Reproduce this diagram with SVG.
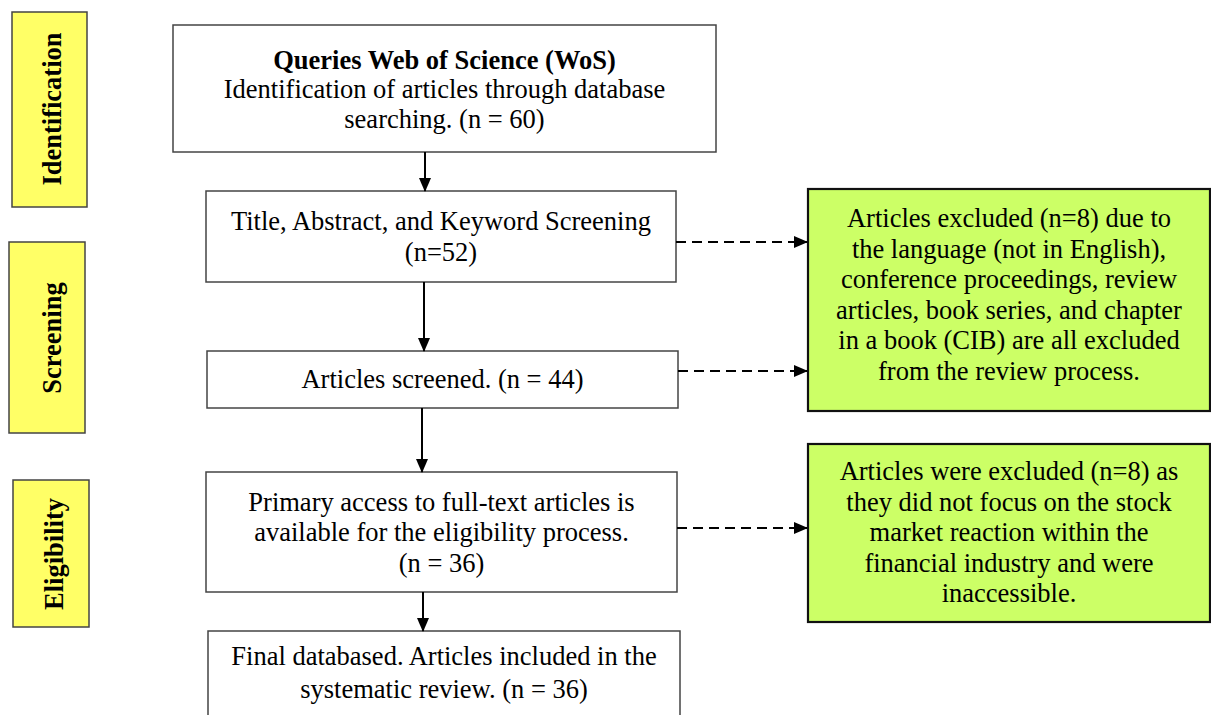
<svg xmlns="http://www.w3.org/2000/svg" width="1211" height="715" viewBox="0 0 1211 715">
<defs>
<marker id="ah" markerWidth="14" markerHeight="12" refX="13" refY="6" orient="auto" markerUnits="userSpaceOnUse">
<path d="M0,0 L14,6 L0,12 Z" fill="#000"/>
</marker>
</defs>
<style>
text{font-family:"Liberation Serif","Times New Roman",serif;font-size:26.5px;fill:#000;text-anchor:middle}
.b{font-weight:bold}
.box{fill:#fff;stroke:#444;stroke-width:1.5}
.stage{fill:#ffff66;stroke:#444;stroke-width:1.5}
.ex{fill:#ccff66;stroke:#111;stroke-width:2.2}
.solid{stroke:#000;stroke-width:2;fill:none}
.dash{stroke:#000;stroke-width:2;fill:none;stroke-dasharray:10,6}
</style>
<rect width="1211" height="715" fill="#fff"/>
<g id="stage-identification">
<rect class="stage" x="12" y="12" width="75" height="195"/>
<text class="b" transform="translate(61,109) rotate(-90)">Identification</text>
</g>
<g id="stage-screening">
<rect class="stage" x="9" y="242" width="76" height="191"/>
<text class="b" transform="translate(61,338) rotate(-90)">Screening</text>
</g>
<g id="stage-eligibility">
<rect class="stage" x="13" y="480" width="76" height="147"/>
<text class="b" transform="translate(63,554) rotate(-90)">Eligibility</text>
</g>
<g id="node-wos">
<rect class="box" x="173" y="25" width="543" height="127"/>
<text class="b" x="444.5" y="69">Queries Web of Science (WoS)</text>
<text x="444.5" y="98">Identification of articles through database</text>
<text x="444.5" y="128">searching. (n = 60)</text>
</g>
<g id="node-title-screening">
<rect class="box" x="206" y="191" width="470" height="91"/>
<text x="441" y="230">Title, Abstract, and Keyword Screening</text>
<text x="441" y="261">(n=52)</text>
</g>
<g id="node-screened">
<rect class="box" x="207" y="351" width="471" height="57"/>
<text x="442.5" y="388">Articles screened. (n = 44)</text>
</g>
<g id="node-fulltext">
<rect class="box" x="206" y="472" width="471" height="120"/>
<text x="441.5" y="511">Primary access to full-text articles is</text>
<text x="441.5" y="541">available for the eligibility process.</text>
<text x="441.5" y="572">(n = 36)</text>
</g>
<g id="node-final">
<rect class="box" x="208" y="631" width="472" height="100"/>
<text x="444" y="665">Final databased. Articles included in the</text>
<text x="444" y="698">systematic review. (n = 36)</text>
</g>
<g id="node-excluded-1">
<rect class="ex" x="808" y="189" width="402" height="222"/>
<text x="1009" y="227">Articles excluded (n=8) due to</text>
<text x="1009" y="257.5">the language (not in English),</text>
<text x="1009" y="288">conference proceedings, review</text>
<text x="1009" y="318.5">articles, book series, and chapter</text>
<text x="1009" y="349">in a book (CIB) are all excluded</text>
<text x="1009" y="379.5">from the review process.</text>
</g>
<g id="node-excluded-2">
<rect class="ex" x="808" y="444" width="402" height="178"/>
<text x="1009" y="480">Articles were excluded (n=8) as</text>
<text x="1009" y="510.5">they did not focus on the stock</text>
<text x="1009" y="541">market reaction within the</text>
<text x="1009" y="571.5">financial industry and were</text>
<text x="1009" y="602">inaccessible.</text>
</g>
<g id="connectors">
<line class="solid" x1="425" y1="152" x2="425" y2="191" marker-end="url(#ah)"/>
<line class="solid" x1="424" y1="282" x2="424" y2="351" marker-end="url(#ah)"/>
<line class="solid" x1="422" y1="408" x2="422" y2="472" marker-end="url(#ah)"/>
<line class="solid" x1="423" y1="592" x2="423" y2="631" marker-end="url(#ah)"/>
<line class="dash" x1="676" y1="242" x2="807" y2="242" marker-end="url(#ah)"/>
<line class="dash" x1="678" y1="371" x2="807" y2="371" marker-end="url(#ah)"/>
<line class="dash" x1="677" y1="528" x2="807" y2="528" marker-end="url(#ah)"/>
</g>
</svg>
